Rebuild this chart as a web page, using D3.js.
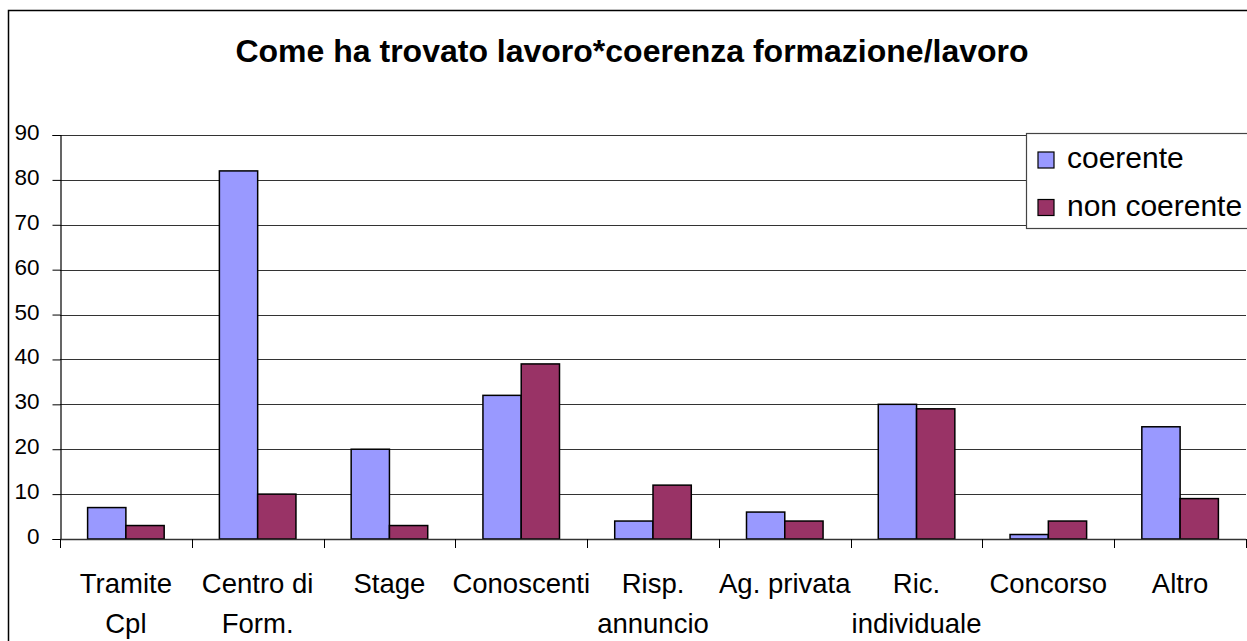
<!DOCTYPE html>
<html>
<head>
<meta charset="utf-8">
<script src="https://cdn.jsdelivr.net/npm/d3@7"></script>
<style>
  html, body { margin: 0; padding: 0; background: #fff; }
  svg { display: block; font-family: "Liberation Sans", Arial, sans-serif; }
</style>
</head>
<body>
<svg id="chart" width="1247" height="641"></svg>
<script>
const title = "Come ha trovato lavoro*coerenza formazione/lavoro";
const categories = ["Tramite Cpl", "Centro di Form.", "Stage", "Conoscenti", "Risp. annuncio", "Ag. privata", "Ric. individuale", "Concorso", "Altro"];
const categoryLines = [["Tramite", "Cpl"], ["Centro di", "Form."], ["Stage"], ["Conoscenti"], ["Risp.", "annuncio"], ["Ag. privata"], ["Ric.", "individuale"], ["Concorso"], ["Altro"]];
const seriesNames = ["coerente", "non coerente"];
const coerente = [7, 82, 20, 32, 4, 6, 30, 1, 25];
const nonCoerente = [3, 10, 3, 39, 12, 4, 29, 4, 9];
const yTicks = [0, 10, 20, 30, 40, 50, 60, 70, 80, 90];
const colors = ["#9999FF", "#993366"];

const svg = d3.select("#chart");

// outer chart border
svg.append("rect")
  .attr("x", 8.5).attr("y", 10.5)
  .attr("width", 1260).attr("height", 660)
  .attr("fill", "#fff").attr("stroke", "#000").attr("stroke-width", 1.5);

// title
svg.append("text")
  .attr("x", 632).attr("y", 61.5)
  .attr("text-anchor", "middle")
  .attr("font-weight", "bold")
  .attr("font-size", 32)
  .text(title);

const plotLeft = 60, plotRight = 1246, plotTop = 135, plotBottom = 539;

const y = d3.scaleLinear().domain([0, 90]).range([plotBottom, plotTop]);
const x0 = d3.scaleBand().domain(categories).range([plotLeft, plotRight])
  .paddingInner(0.419).paddingOuter(0.2095);
const x1 = d3.scaleBand().domain(seriesNames).range([0, x0.bandwidth()]);
const step = x0.step();

// gridlines
svg.append("g").selectAll("line")
  .data(yTicks.filter(d => d > 0))
  .join("line")
  .attr("x1", plotLeft).attr("x2", plotRight)
  .attr("y1", d => Math.round(y(d)) + 0.5).attr("y2", d => Math.round(y(d)) + 0.5)
  .attr("stroke", "#333").attr("stroke-width", 1);

// bars
const data = categories.map((c, i) => ({ cat: c, vals: [coerente[i], nonCoerente[i]] }));
const groups = svg.append("g").selectAll("g")
  .data(data).join("g")
  .attr("transform", d => `translate(${x0(d.cat)},0)`);
groups.selectAll("rect")
  .data(d => d.vals.map((v, j) => ({ s: seriesNames[j], v, j })))
  .join("rect")
  .attr("x", d => x1(d.s))
  .attr("y", d => y(d.v))
  .attr("width", x1.bandwidth())
  .attr("height", d => y(0) - y(d.v))
  .attr("fill", d => colors[d.j])
  .attr("stroke", "#000").attr("stroke-width", 1.5);

// y axis
const yAxis = d3.axisLeft(y).tickValues(yTicks).tickSize(8).tickPadding(13);
const gy = svg.append("g").attr("transform", `translate(${plotLeft + 0.5},0)`).call(yAxis);
gy.select(".domain").attr("stroke", "#000").attr("stroke-width", 1.2);
gy.selectAll(".tick line").attr("stroke", "#000");
gy.selectAll(".tick text")
  .attr("font-size", 22.5).attr("fill", "#000")
  .attr("font-family", "Liberation Sans, Arial, sans-serif")
  .attr("dy", "0.2em");

// x axis baseline
svg.append("line")
  .attr("x1", plotLeft).attr("x2", plotRight)
  .attr("y1", y(0) + 0.5).attr("y2", y(0) + 0.5)
  .attr("stroke", "#333").attr("stroke-width", 1.5);

// x axis ticks at category boundaries
const boundaries = d3.range(categories.length + 1).map(i => plotLeft + i * step);
svg.append("g").selectAll("line")
  .data(boundaries).join("line")
  .attr("x1", d => Math.round(d) + 0.5).attr("x2", d => Math.round(d) + 0.5)
  .attr("y1", y(0)).attr("y2", y(0) + 9)
  .attr("stroke", "#000").attr("stroke-width", 1);

// category labels
const lab = svg.append("g").selectAll("text")
  .data(categories).join("text")
  .attr("x", (d) => x0(d) + x0.bandwidth() / 2)
  .attr("y", 593)
  .attr("text-anchor", "middle")
  .attr("font-size", 27.5);
lab.each(function(d, i) {
  const t = d3.select(this);
  categoryLines[i].forEach((ln, k) => {
    t.append("tspan")
      .attr("x", x0(d) + x0.bandwidth() / 2)
      .attr("dy", k === 0 ? 0 : 39.5)
      .text(ln);
  });
});

// legend
const lg = svg.append("g");
lg.append("rect")
  .attr("x", 1026.5).attr("y", 133.5)
  .attr("width", 300).attr("height", 95)
  .attr("fill", "#fff").attr("stroke", "#444").attr("stroke-width", 1.2);
const items = lg.selectAll("g.item").data(seriesNames).join("g")
  .attr("class", "item")
  .attr("transform", (d, i) => `translate(1038, ${152 + i * 47.5})`);
items.append("rect")
  .attr("width", 16).attr("height", 16)
  .attr("fill", (d, i) => colors[i])
  .attr("stroke", "#000").attr("stroke-width", 1.2);
items.append("text")
  .attr("x", 29).attr("y", 16)
  .attr("font-size", 30)
  .text(d => d);
</script>
</body>
</html>
